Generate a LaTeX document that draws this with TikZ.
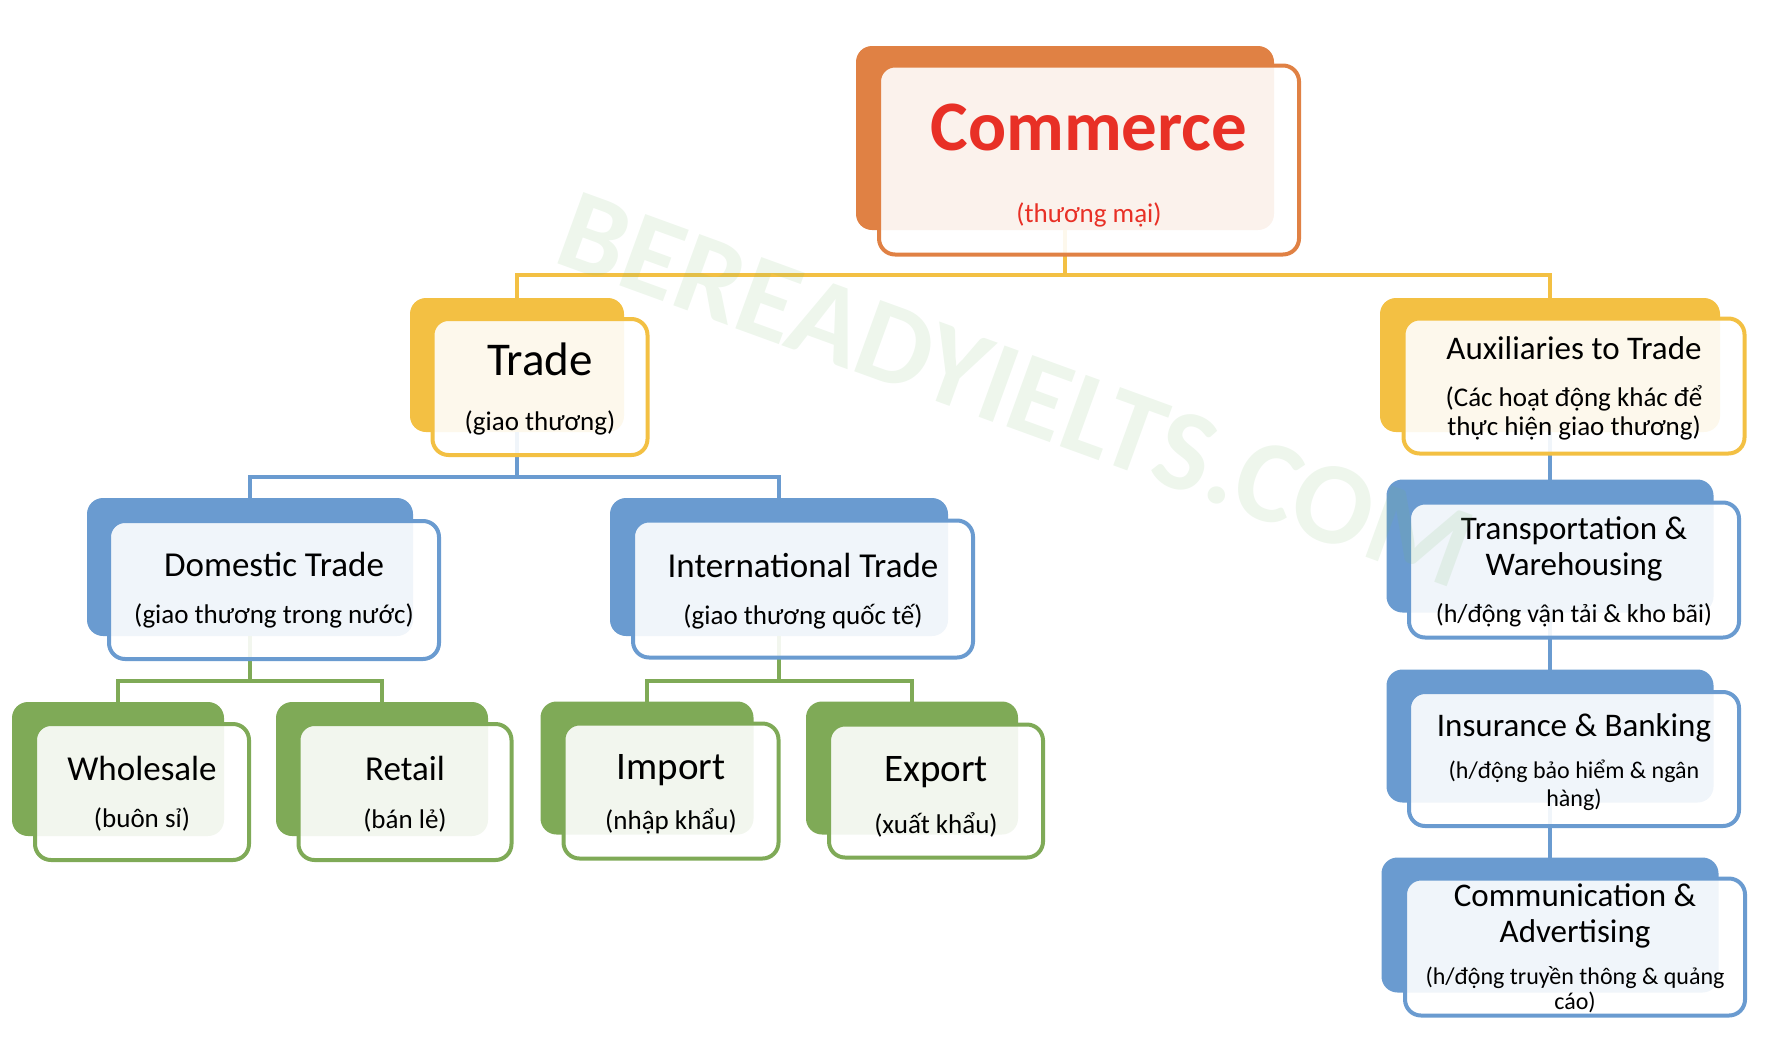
\documentclass[tikz,border=0pt]{standalone}
\usepackage{fontspec}
\setmainfont{Carlito}
\definecolor{cmorange}{RGB}{224,129,68}
\definecolor{tryellow}{RGB}{243,192,67}
\definecolor{trblue}{RGB}{106,155,208}
\definecolor{trgreen}{RGB}{127,170,87}
\definecolor{cmred}{RGB}{232,48,38}
\definecolor{wmgreen}{RGB}{120,185,110}
\tikzset{
    back/.style={rectangle, rounded corners=16pt, fill=#1, inner sep=0pt, outer sep=0pt},
    front/.style={rectangle, rounded corners=16pt, draw=#1, line width=4pt, fill=white,
    	fill opacity=0.9, inner sep=0pt, outer sep=0pt},
    boxsize/.style 2 args={minimum width=#1, minimum height=#2}
}
\tikzset{
    title/.style={anchor=base, inner sep=0pt, align=center, font=\fontsize{35}{38}\selectfont},
    sub/.style={anchor=base, inner sep=0pt, align=center, font=\fontsize{27}{29}\selectfont},
    link/.style={draw=#1, line width=3.5pt}
}

\begin{document}
\begin{tikzpicture}[x=1pt, y=-1pt]
	\useasboundingbox (0,0) rectangle (1776,1052);
	% back plates
	\node (cm-b) [back=cmorange, boxsize={418pt}{184pt}] at (1065,138) {};
	\node (tr-b) [back=tryellow, boxsize={214pt}{134pt}] at (517,365) {};
	\node (ax-b) [back=tryellow, boxsize={340pt}{134pt}] at (1550,365) {};
	\node (dm-b) [back=trblue, boxsize={326pt}{138pt}] at (250,567) {};
	\node (it-b) [back=trblue, boxsize={338pt}{138pt}] at (779,567) {};
	\node (tp-b) [back=trblue, boxsize={327pt}{133pt}] at (1550,546) {};
	\node (ib-b) [back=trblue, boxsize={327pt}{133pt}] at (1550,736) {};
	\node (ca-b) [back=trblue, boxsize={337pt}{135pt}] at (1550,925) {};
	\node (ws-b) [back=trgreen, boxsize={212pt}{134pt}] at (118,769) {};
	\node (rt-b) [back=trgreen, boxsize={212pt}{134pt}] at (382,769) {};
	\node (im-b) [back=trgreen, boxsize={213pt}{133pt}] at (647,768) {};
	\node (ex-b) [back=trgreen, boxsize={212pt}{133pt}] at (912,768) {};

	% connectors
	\coordinate (bar0) at (0,275);
	\coordinate (bar1) at (0,477);
	\coordinate (bar2) at (0,681);
	\draw[link=tryellow] (cm-b.south) -- (cm-b.south |- bar0);
	\draw[link=tryellow] (tr-b.north) |- (bar0 -| cm-b.south) -| (ax-b.north);
	\draw[link=trblue] (tr-b.south) -- (tr-b.south |- bar1);
	\draw[link=trblue] (dm-b.north) |- (bar1 -| tr-b.south) -| (it-b.north);
	\draw[link=trgreen] (dm-b.south) -- (dm-b.south |- bar2);
	\draw[link=trgreen] (ws-b.north) |- (bar2 -| dm-b.south) -| (rt-b.north);
	\draw[link=trgreen] (it-b.south) -- (it-b.south |- bar2);
	\draw[link=trgreen] (im-b.north) |- (bar2 -| it-b.south) -| (ex-b.north);
	\draw[link=trblue] (ax-b.south) -- (tp-b.north);
	\draw[link=trblue] (tp-b.south) -- (ib-b.north);
	\draw[link=trblue] (ib-b.south) -- (ca-b.north);

	% front frames
	\node (cm-f) [front=cmorange, boxsize={420pt}{189pt}] at (1089,160) {};
	\node (tr-f) [front=tryellow, boxsize={215pt}{136pt}] at (540,387) {};
	\node (ax-f) [front=tryellow, boxsize={341pt}{135pt}] at (1574,386) {};
	\node (dm-f) [front=trblue, boxsize={330pt}{138pt}] at (274,590) {};
	\node (it-f) [front=trblue, boxsize={340pt}{137pt}] at (803,589) {};
	\node (tp-f) [front=trblue, boxsize={330pt}{135pt}] at (1574,570) {};
	\node (ib-f) [front=trblue, boxsize={330pt}{134pt}] at (1574,759) {};
	\node (ca-f) [front=trblue, boxsize={340pt}{137pt}] at (1575,947) {};
	\node (ws-f) [front=trgreen, boxsize={214pt}{136pt}] at (142,792) {};
	\node (rt-f) [front=trgreen, boxsize={213pt}{136pt}] at (405,792) {};
	\node (im-f) [front=trgreen, boxsize={215pt}{135pt}] at (671,791) {};
	\node (ex-f) [front=trgreen, boxsize={214pt}{133pt}] at (936,791) {};

	% texts (base = last line)
	\node (cm-t) [title, font=\fontsize{71}{78}\selectfont\bfseries, text=cmred] at (1089,150) {Commerce};
	\node (cm-s) [sub, text=cmred] at (1089,222) {(thương mại)};
	\node (tr-t) [title, font=\fontsize{47}{50}\selectfont] at (540,375) {Trade};
	\node (tr-s) [sub] at (540,430) {(giao thương)};
	\node (ax-t) [title, font=\fontsize{33}{36}\selectfont] at (1574,359) {Auxiliaries to Trade};
	\node (ax-s) [sub] at (1574,435) {(Các hoạt động khác để\\thực hiện giao thương)};
	\node (dm-t) [title] at (274,576) {Domestic Trade};
	\node (dm-s) [sub] at (274,623) {(giao thương trong nước)};
	\node (it-t) [title] at (803,577) {International Trade};
	\node (it-s) [sub] at (803,624) {(giao thương quốc tế)};
	\node (tp-t) [title, font=\fontsize{33}{36}\selectfont] at (1574,575) {Transportation \&\\Warehousing};
	\node (tp-s) [sub, font=\fontsize{26}{28}\selectfont] at (1574,622) {(h/động vận tải \& kho bãi)};
	\node (ib-t) [title, font=\fontsize{33}{36}\selectfont] at (1574,736) {Insurance \& Banking};
	\node (ib-s) [sub, font=\fontsize{24}{28}\selectfont] at (1574,806) {(h/động bảo hiểm \& ngân\\hàng)};
	\node (ca-t) [title, font=\fontsize{33}{36}\selectfont] at (1575,942) {Communication \&\\Advertising};
	\node (ca-s) [sub, font=\fontsize{24}{25}\selectfont] at (1575,1009) {(h/động truyền thông \& quảng\\cáo)};
	\node (ws-t) [title] at (142,780) {Wholesale};
	\node (ws-s) [sub] at (142,827) {(buôn sỉ)};
	\node (rt-t) [title] at (405,780) {Retail};
	\node (rt-s) [sub] at (405,828) {(bán lẻ)};
	\node (im-t) [title, font=\fontsize{39}{42}\selectfont] at (671,779) {Import};
	\node (im-s) [sub] at (671,829) {(nhập khẩu)};
	\node (ex-t) [title, font=\fontsize{39}{42}\selectfont] at (936,781) {Export};
	\node (ex-s) [sub] at (936,833) {(xuất khẩu)};

	% watermark
	\node (wm) [rotate=-20, text=wmgreen, text opacity=0.13, font=\fontsize{117}{117}\selectfont\bfseries]
		at (1016,390) {BEREADYIELTS.COM};
\end{tikzpicture}
\end{document}
